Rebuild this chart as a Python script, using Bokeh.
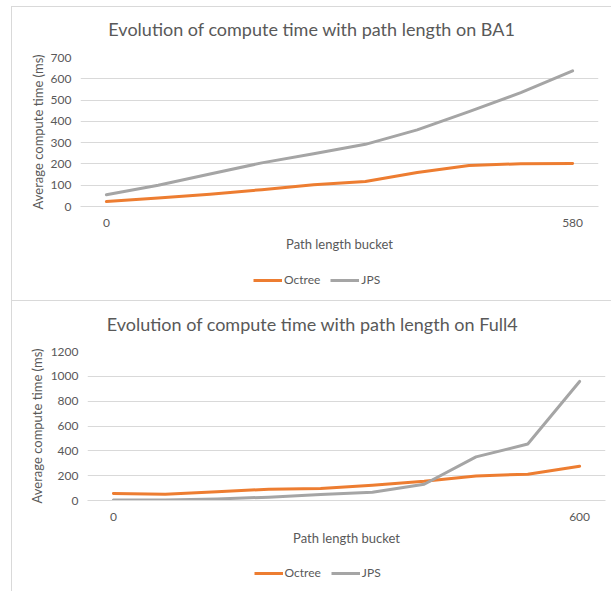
from bokeh.plotting import figure
from bokeh.layouts import column, row
from bokeh.models import Label, Legend, LegendItem, FixedTicker, Range1d, Spacer
from bokeh.embed import file_html
from bokeh.resources import INLINE

# ---- data -------------------------------------------------------------
# Ten path-length buckets per map; only the first and last bucket are labelled.
bucket_index = list(range(10))

ba1_octree = [23, 40, 58, 79, 102, 117, 160, 193, 201, 202]
ba1_jps = [55, 100, 153, 205, 248, 292, 360, 446, 535, 637]
ba1_y_ticks = [0, 100, 200, 300, 400, 500, 600, 700]
ba1_bucket_labels = {0: "0", 9: "580"}

full4_octree = [56, 51, 70, 91, 96, 123, 155, 198, 212, 276]
full4_jps = [5, 5, 13, 27, 48, 67, 131, 351, 455, 959]
full4_y_ticks = [0, 200, 400, 600, 800, 1000, 1200]
full4_bucket_labels = {0: "0", 9: "600"}

series_names = ["Octree", "JPS"]

# ---- styling ------------------------------------------------------------
FONT = "Lato"
TEXT = "#595959"
GRID = "#d9d9d9"
ORANGE = "#ED7D31"
GREY = "#A5A5A5"
WIDTH = 600
BOX_TOP_LEFT = {"border-top": "1px solid #d9d9d9", "border-left": "1px solid #d9d9d9"}
BOX_LEFT = {"border-left": "1px solid #d9d9d9"}


def blank_strip(height, styles):
    """A bare figure stacked above/below a chart; the column lines its frame
    up with the chart's plot frame."""
    s = figure(width=WIDTH, height=height, output_backend="svg",
               toolbar_location=None, x_axis_type=None, y_axis_type=None,
               x_range=Range1d(0, 1), y_range=Range1d(0, 1), min_border=0)
    s.outline_line_color = None
    s.grid.visible = False
    s.background_fill_color = "white"
    s.border_fill_color = "white"
    s.styles = styles
    return s


def make_title_strip(text, height, text_x, text_y):
    s = blank_strip(height, BOX_TOP_LEFT)
    s.add_layout(Label(x=text_x, y=text_y, x_units="screen", y_units="screen",
                       text=text, text_font=FONT, text_font_size="18px",
                       text_color=TEXT, text_align="center",
                       text_baseline="middle"))
    return s


def make_legend_strip(height, key_x, key_y):
    s = blank_strip(height, BOX_LEFT)
    # key glyphs only; their data lies outside the strip's visible range
    keys = [s.line([2, 3], [2, 3], line_color=c, line_width=3)
            for c in (ORANGE, GREY)]
    legend = Legend(items=[LegendItem(label=n, renderers=[r])
                           for n, r in zip(series_names, keys)],
                    orientation="horizontal", location=(key_x, key_y),
                    glyph_width=29, glyph_height=14, label_height=14,
                    label_standoff=2, spacing=10, padding=0, margin=0,
                    border_line_color=None, background_fill_alpha=0,
                    label_text_font=FONT, label_text_font_size="12px",
                    label_text_color=TEXT)
    s.add_layout(legend, "center")
    return s


def make_chart(octree, jps, y_ticks, bucket_labels, height, left, top,
               frame_h, ytick_standoff, ylab_standoff):
    bottom = height - top - frame_h
    p = figure(width=WIDTH, height=height, output_backend="svg",
               toolbar_location=None, x_range=Range1d(-0.5, 9.5),
               y_range=Range1d(y_ticks[0], y_ticks[-1]),
               min_border_left=left, min_border_right=WIDTH - left - 518,
               min_border_top=top, min_border_bottom=bottom)
    p.outline_line_color = None
    p.background_fill_color = "white"
    p.border_fill_color = "white"
    p.styles = BOX_LEFT

    p.xgrid.grid_line_color = None
    p.ygrid.grid_line_color = GRID
    p.ygrid.grid_line_width = 1

    # y axis: tick labels and rotated title
    p.yaxis.ticker = FixedTicker(ticks=y_ticks)
    p.yaxis.axis_line_color = None
    p.yaxis.major_tick_line_color = None
    p.yaxis.minor_tick_line_color = None
    p.yaxis.major_tick_out = 0
    p.yaxis.minor_tick_out = 0
    p.yaxis.major_label_standoff = ytick_standoff
    p.yaxis.major_label_text_font = FONT
    p.yaxis.major_label_text_font_size = "12px"
    p.yaxis.major_label_text_color = TEXT
    p.yaxis.axis_label = "Average compute time (ms)"
    p.yaxis.axis_label_standoff = ylab_standoff
    p.yaxis.axis_label_text_font = FONT
    p.yaxis.axis_label_text_font_size = "13px"
    p.yaxis.axis_label_text_font_style = "normal"
    p.yaxis.axis_label_text_color = TEXT

    # x axis: first and last bucket labelled
    p.xaxis.ticker = FixedTicker(ticks=sorted(bucket_labels))
    p.xaxis.major_label_overrides = bucket_labels
    p.xaxis.axis_line_color = GRID
    p.xaxis.major_tick_line_color = None
    p.xaxis.minor_tick_line_color = None
    p.xaxis.major_tick_out = 0
    p.xaxis.minor_tick_out = 0
    p.xaxis.major_label_standoff = 12
    p.xaxis.major_label_text_font = FONT
    p.xaxis.major_label_text_font_size = "12px"
    p.xaxis.major_label_text_color = TEXT
    p.xaxis.axis_label = "Path length bucket"
    p.xaxis.axis_label_standoff = 6
    p.xaxis.axis_label_text_font = FONT
    p.xaxis.axis_label_text_font_size = "13px"
    p.xaxis.axis_label_text_font_style = "normal"
    p.xaxis.axis_label_text_color = TEXT

    p.line(bucket_index, octree, line_color=ORANGE, line_width=3,
           line_join="round", line_cap="round")
    p.line(bucket_index, jps, line_color=GREY, line_width=3,
           line_join="round", line_cap="round")
    return p


# Strip frames share the chart's plot-frame left edge (68 / 75 px in), so the
# title and key positions below are measured from there.
t1 = make_title_strip("Evolution of compute time with path length on BA1",
                      height=38, text_x=231.5, text_y=16.5)
p1 = make_chart(ba1_octree, ba1_jps, ba1_y_ticks, ba1_bucket_labels,
                height=216, left=68, top=13, frame_h=149,
                ytick_standoff=9, ylab_standoff=2)
k1 = make_legend_strip(height=40, key_x=173, key_y=13)

t2 = make_title_strip("Evolution of compute time with path length on Full4",
                      height=38, text_x=225, text_y=15.2)
p2 = make_chart(full4_octree, full4_jps, full4_y_ticks, full4_bucket_labels,
                height=217, left=75, top=13, frame_h=149,
                ytick_standoff=9, ylab_standoff=3)
k2 = make_legend_strip(height=36, key_x=166.5, key_y=11)

layout = column(Spacer(height=6),
                row(Spacer(width=11), column(t1, p1, k1, spacing=0)),
                row(Spacer(width=11), column(t2, p2, k2, spacing=0)),
                spacing=0)

open("out.html", "w").write(file_html(layout, INLINE))
